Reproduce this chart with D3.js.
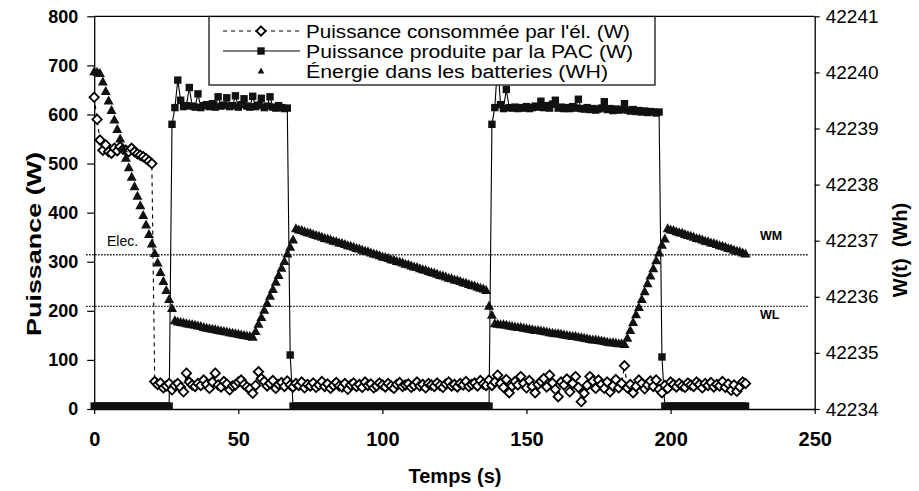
<!DOCTYPE html>
<html><head><meta charset="utf-8">
<script src="https://cdn.jsdelivr.net/npm/d3@7"></script>
<style>
html,body{margin:0;padding:0;background:#fff;}
svg{display:block;font-family:"Liberation Sans",Arial,sans-serif;}
</style></head><body>
<svg id="chart" width="919" height="491"></svg>
<script>
// ---- axis ticks ----
const powerTicks = [0, 100, 200, 300, 400, 500, 600, 700, 800];
const energyTicks = [42234, 42235, 42236, 42237, 42238, 42239, 42240, 42241];
const timeTicks = [0, 50, 100, 150, 200, 250];

// ---- legend ----
const seriesNames = [
  "Puissance consommée par l'él. (W)",
  "Puissance produite par la PAC (W)",
  "Énergie dans les batteries (WH)"
];

// ---- measurements, one sample per second from t = 0 s ----
const samplePeriod = 1;

// power drawn by the electrolyser (W)
const consumedW = [
  635, 590, 548, 527, 538, 524, 521, 531, 526, 534, 529, 527, 524, 531, 524, 520, 517, 514, 510, 505,
  500, 56, 50, 53, 43, 47, 52, 39, 48, 52, 44, 35, 73, 55, 49, 46, 52, 48, 59, 50,
  42, 55, 73, 49, 45, 56, 51, 39, 47, 49, 55, 59, 50, 45, 41, 32, 48, 76, 62, 56,
  47, 52, 58, 42, 50, 54, 46, 57, 49, 45, 52, 48, 55, 43, 50, 47, 53, 44, 49, 56,
  46, 51, 42, 48, 54, 47, 45, 52, 40, 49, 53, 46, 50, 44, 55, 48, 51, 43, 47, 53,
  49, 45, 52, 47, 42, 50, 54, 46, 49, 51, 44, 48, 55, 47, 50, 43, 52, 49, 46, 53,
  48, 44, 51, 55, 47, 50, 45, 52, 49, 56, 46, 50, 53, 47, 58, 51, 48, 59, 48, 55,
  69, 52, 44, 60, 33, 47, 56, 49, 66, 52, 43, 58, 46, 33, 50, 56, 62, 45, 69, 53,
  40, 25, 55, 49, 61, 35, 52, 66, 44, 15, 32, 48, 66, 57, 42, 59, 50, 42, 55, 35,
  47, 60, 43, 52, 88, 43, 50, 33, 46, 59, 52, 41, 49, 57, 46, 59, 40, 33, 48, 42,
  55, 50, 45, 52, 47, 44, 53, 49, 46, 55, 50, 43, 52, 48, 54, 45, 50, 47, 56, 44,
  51, 38, 49, 36, 45, 55, 52
];

// power delivered by the fuel cell (W)
const fuelCellW = [
  6, 6, 6, 6, 6, 6, 6, 6, 6, 6, 6, 6, 6, 6, 6, 6, 6, 6, 6, 6,
  6, 6, 6, 6, 6, 6, 6, 580, 614, 670, 629, 616, 618, 655, 617, 615, 642, 614, 618, 620,
  616, 622, 615, 636, 617, 619, 634, 616, 618, 638, 615, 620, 632, 617, 615, 637, 616, 619, 633, 614,
  617, 636, 615, 613, 618, 614, 612, 613, 110, 6, 6, 6, 6, 6, 6, 6, 6, 6, 6, 6,
  6, 6, 6, 6, 6, 6, 6, 6, 6, 6, 6, 6, 6, 6, 6, 6, 6, 6, 6, 6,
  6, 6, 6, 6, 6, 6, 6, 6, 6, 6, 6, 6, 6, 6, 6, 6, 6, 6, 6, 6,
  6, 6, 6, 6, 6, 6, 6, 6, 6, 6, 6, 6, 6, 6, 6, 6, 6, 6, 580, 614,
  705, 620, 612, 651, 614, 613, 615, 612, 614, 613, 616, 612, 614, 617, 615, 627, 614, 618, 613, 621,
  629, 613, 615, 612, 614, 612, 616, 613, 631, 612, 611, 614, 610, 612, 609, 611, 613, 626, 610, 612,
  608, 611, 609, 610, 622, 609, 607, 610, 606, 608, 605, 607, 604, 606, 605, 603, 605, 106, 6, 6,
  6, 6, 6, 6, 6, 6, 6, 6, 6, 6, 6, 6, 6, 6, 6, 6, 6, 6, 6, 6,
  6, 6, 6, 6, 6, 6, 6
];

// energy stored in the batteries (Wh)
const batteryWh = [
  42240.02, 42240.01, 42239.99, 42239.84, 42239.67, 42239.50, 42239.33, 42239.16, 42238.99, 42238.82,
  42238.65, 42238.48, 42238.31, 42238.14, 42237.97, 42237.80, 42237.63, 42237.46, 42237.29, 42237.12,
  42236.95, 42236.78, 42236.61, 42236.44, 42236.28, 42236.12, 42235.96, 42235.80, 42235.58, 42235.56,
  42235.55, 42235.54, 42235.53, 42235.52, 42235.51, 42235.50, 42235.49, 42235.48, 42235.46, 42235.45,
  42235.44, 42235.43, 42235.42, 42235.41, 42235.40, 42235.39, 42235.38, 42235.37, 42235.36, 42235.35,
  42235.34, 42235.33, 42235.32, 42235.31, 42235.30, 42235.29, 42235.39, 42235.52, 42235.64, 42235.77,
  42235.89, 42236.02, 42236.14, 42236.27, 42236.39, 42236.52, 42236.64, 42236.77, 42236.89, 42237.02,
  42237.22, 42237.20, 42237.19, 42237.17, 42237.15, 42237.14, 42237.12, 42237.10, 42237.09, 42237.07,
  42237.05, 42237.04, 42237.02, 42237.00, 42236.99, 42236.97, 42236.96, 42236.94, 42236.92, 42236.91,
  42236.89, 42236.87, 42236.86, 42236.84, 42236.82, 42236.81, 42236.79, 42236.77, 42236.76, 42236.74,
  42236.72, 42236.71, 42236.69, 42236.67, 42236.66, 42236.64, 42236.63, 42236.61, 42236.59, 42236.58,
  42236.56, 42236.54, 42236.53, 42236.51, 42236.49, 42236.48, 42236.46, 42236.44, 42236.43, 42236.41,
  42236.39, 42236.38, 42236.36, 42236.34, 42236.33, 42236.31, 42236.30, 42236.28, 42236.26, 42236.25,
  42236.23, 42236.21, 42236.20, 42236.18, 42236.16, 42236.15, 42236.12, 42235.84, 42235.68, 42235.53,
  42235.52, 42235.51, 42235.51, 42235.50, 42235.49, 42235.48, 42235.47, 42235.46, 42235.46, 42235.45,
  42235.44, 42235.43, 42235.42, 42235.41, 42235.41, 42235.40, 42235.39, 42235.38, 42235.37, 42235.36,
  42235.35, 42235.35, 42235.34, 42235.33, 42235.32, 42235.31, 42235.30, 42235.30, 42235.29, 42235.28,
  42235.27, 42235.26, 42235.25, 42235.24, 42235.24, 42235.23, 42235.22, 42235.21, 42235.20, 42235.19,
  42235.19, 42235.18, 42235.17, 42235.17, 42235.16, 42235.27, 42235.41, 42235.55, 42235.69, 42235.82,
  42235.96, 42236.10, 42236.24, 42236.38, 42236.51, 42236.65, 42236.79, 42236.93, 42237.04, 42237.22,
  42237.20, 42237.19, 42237.17, 42237.15, 42237.14, 42237.12, 42237.10, 42237.09, 42237.07, 42237.05,
  42237.04, 42237.02, 42237.00, 42236.99, 42236.97, 42236.96, 42236.94, 42236.92, 42236.91, 42236.89,
  42236.87, 42236.86, 42236.84, 42236.82, 42236.81, 42236.79, 42236.77
];

// battery thresholds (Wh) and their labels
const thresholdsWh = [42236.75, 42235.83];
const thresholdLabels = [["Elec.", "WM"], ["", "WL"]];

// ---- layout ----
const svg = d3.select("#chart");
const plot = { left: 94.2, right: 814.7, top: 16.3, bottom: 409 };

const x = d3.scaleLinear().domain([0, 250]).range([plot.left, plot.right]);
const yP = d3.scaleLinear().domain([0, 800]).range([plot.bottom, plot.top]);
const yE = d3.scaleLinear().domain([42234, 42241]).range([plot.bottom, plot.top]);

const t = i => i * samplePeriod;

// plot frame top edge
svg.append("line")
  .attr("x1", plot.left).attr("x2", plot.right)
  .attr("y1", plot.top).attr("y2", plot.top)
  .attr("stroke", "#000").attr("stroke-width", 1.2);

// ---- axes ----
function styleAxis(g, size, weight) {
  g.select(".domain").attr("stroke", "#000").attr("stroke-width", 1.3);
  g.selectAll(".tick line").attr("stroke", "#000").attr("stroke-width", 1.2);
  g.selectAll(".tick text")
    .attr("fill", "#000")
    .style("font-family", '"Liberation Sans", Arial, sans-serif')
    .style("font-size", size + "px")
    .style("font-weight", weight);
}

const axL = svg.append("g").attr("transform", `translate(${plot.left},0)`)
  .call(d3.axisLeft(yP).tickValues(powerTicks).tickSize(7).tickSizeOuter(0).tickPadding(9));
styleAxis(axL, 18, "bold");

const axR = svg.append("g").attr("transform", `translate(${plot.right},0)`)
  .call(d3.axisRight(yE).tickValues(energyTicks).tickFormat(d3.format("d")).tickSize(5).tickSizeOuter(0).tickPadding(6));
styleAxis(axR, 19, "normal");

const axB = svg.append("g").attr("transform", `translate(0,${plot.bottom})`)
  .call(d3.axisBottom(x).tickValues(timeTicks).tickSize(5).tickSizeOuter(0).tickPadding(18));
styleAxis(axB, 20, "bold");

// axis titles
svg.append("text")
  .attr("transform", `translate(41,244) rotate(-90)`)
  .attr("text-anchor", "middle")
  .attr("textLength", 184).attr("lengthAdjust", "spacingAndGlyphs")
  .style("font-size", "20px").style("font-weight", "bold")
  .text("Puissance (W)");

svg.append("text")
  .attr("transform", `translate(907,250) rotate(-90)`)
  .attr("text-anchor", "middle")
  .attr("xml:space", "preserve")
  .style("font-size", "20px").style("font-weight", "bold")
  .style("white-space", "pre")
  .text("W(t)  (Wh)");

svg.append("text")
  .attr("x", 455).attr("y", 483)
  .attr("text-anchor", "middle")
  .style("font-size", "20px").style("font-weight", "bold")
  .text("Temps (s)");

// ---- threshold lines ----
const thr = svg.append("g");
thresholdsWh.forEach(w => {
  thr.append("line")
    .attr("x1", plot.left - 8).attr("x2", plot.right - 7)
    .attr("y1", yE(w)).attr("y2", yE(w))
    .attr("stroke", "#000").attr("stroke-width", 1.3)
    .attr("stroke-dasharray", "1.4,1.6");
});
thr.append("text").attr("x", 107).attr("y", yE(thresholdsWh[0]) - 8.5)
  .style("font-size", "14px").text(thresholdLabels[0][0]);
thr.append("text").attr("x", 760).attr("y", yE(thresholdsWh[0]) - 15)
  .style("font-size", "12.5px").style("font-weight", "bold").text(thresholdLabels[0][1]);
thr.append("text").attr("x", 760).attr("y", yE(thresholdsWh[1]) + 13)
  .style("font-size", "12.5px").style("font-weight", "bold").text(thresholdLabels[1][1]);

// ---- marker shapes ----
const diamondPath = "M0,-4.7L4.7,0L0,4.7L-4.7,0Z";
const squarePath = "M-3.7,-3.7H3.7V3.7H-3.7Z";
const trianglePath = "M0,-5L5,4H-5Z";

// electrolyser power: dashed line + open diamonds
const consumedLine = d3.line().x((d, i) => x(t(i))).y(d => yP(d));
svg.append("path").datum(consumedW)
  .attr("d", consumedLine)
  .attr("fill", "none").attr("stroke", "#000").attr("stroke-width", 1.1)
  .attr("stroke-dasharray", "4,4");

// fuel cell power: solid line + filled squares
const fuelLine = d3.line().x((d, i) => x(t(i))).y(d => yP(d));
svg.append("path").datum(fuelCellW)
  .attr("d", fuelLine)
  .attr("fill", "none").attr("stroke", "#000").attr("stroke-width", 1.1);

svg.append("g").selectAll("path").data(consumedW).join("path")
  .attr("d", diamondPath)
  .attr("transform", (d, i) => `translate(${x(t(i))},${yP(d)})`)
  .attr("fill", "#fff").attr("stroke", "#000").attr("stroke-width", 1.8);

svg.append("g").selectAll("path").data(fuelCellW).join("path")
  .attr("d", squarePath)
  .attr("transform", (d, i) => `translate(${x(t(i))},${yP(d)})`)
  .attr("fill", "#111");

// battery energy: filled triangles on the right axis
svg.append("g").selectAll("path").data(batteryWh).join("path")
  .attr("d", trianglePath)
  .attr("transform", (d, i) => `translate(${x(t(i))},${yE(d)})`)
  .attr("fill", "#111");

// ---- legend ----
const lg = svg.append("g");
lg.append("rect").attr("x", 209).attr("y", 16.5).attr("width", 446).attr("height", 68.5)
  .attr("fill", "#fff").attr("stroke", "#000").attr("stroke-width", 1.2);
const rowY = [31, 51, 71];
const textWidths = [324, 327, 302];
lg.append("line").attr("x1", 223).attr("x2", 300).attr("y1", rowY[0]).attr("y2", rowY[0])
  .attr("stroke", "#000").attr("stroke-width", 1.1).attr("stroke-dasharray", "4,4");
lg.append("path").attr("d", diamondPath).attr("transform", `translate(261,${rowY[0]})`)
  .attr("fill", "#fff").attr("stroke", "#000").attr("stroke-width", 1.8);
lg.append("line").attr("x1", 223).attr("x2", 300).attr("y1", rowY[1]).attr("y2", rowY[1])
  .attr("stroke", "#000").attr("stroke-width", 1.1);
lg.append("path").attr("d", squarePath).attr("transform", `translate(261,${rowY[1]})`).attr("fill", "#111");
lg.append("path").attr("d", "M0,-3.6L3.3,2.6H-3.3Z").attr("transform", `translate(261,${rowY[2]})`).attr("fill", "#111");
seriesNames.forEach((name, k) => {
  lg.append("text").attr("x", 306).attr("y", rowY[k] + 6.5)
    .attr("textLength", textWidths[k]).attr("lengthAdjust", "spacingAndGlyphs")
    .style("font-size", "18px").text(name);
});
</script>
</body></html>
